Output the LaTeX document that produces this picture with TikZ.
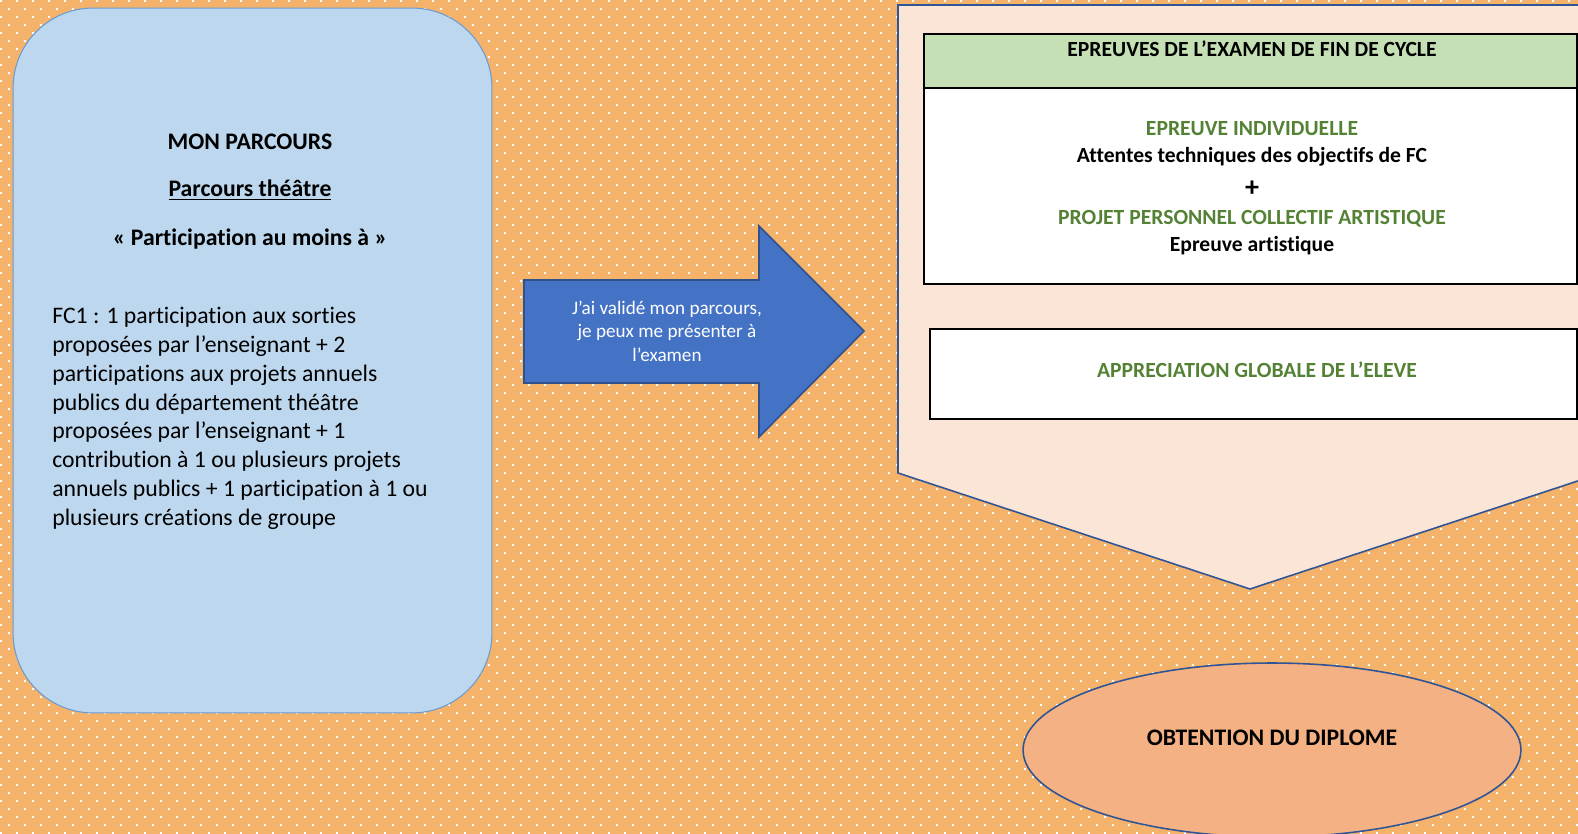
\documentclass[tikz,border=0pt]{standalone}
\usepackage{fontspec}
\setmainfont{Carlito}[Ligatures=NoCommon]
\usetikzlibrary{calc, shapes.geometric, patterns, positioning}
\definecolor{fondorange}{HTML}{F4B26B}
\definecolor{parcoursbleu}{HTML}{BDD7EE}
\definecolor{parcoursbord}{HTML}{6A9BD3}
\definecolor{flechebleu}{HTML}{4472C4}
\definecolor{flechebord}{HTML}{2F528F}
\definecolor{examenrose}{HTML}{FBE5D6}
\definecolor{examenbord}{HTML}{2F5597}
\definecolor{entetevert}{HTML}{C5E0B4}
\definecolor{textevert}{HTML}{548235}
\definecolor{diplomeorange}{HTML}{F4B183}

% white dots of the background
\pgfdeclarepatternformonly{pointsblancs}{\pgfpointorigin}{\pgfpoint{9.07pt}{9.07pt}}{\pgfpoint{9.07pt}{9.07pt}}{%
  \pgfpathrectangle{\pgfpoint{0pt}{0pt}}{\pgfpoint{1.1pt}{1.1pt}}%
  \pgfpathrectangle{\pgfpoint{4.53pt}{4.53pt}}{\pgfpoint{1.1pt}{1.1pt}}%
  \pgfusepath{fill}}

\begin{document}
\begin{tikzpicture}[x=0.02cm, y=-0.02cm,
    grand/.style={font=\fontsize{13.5}{16.4}\selectfont},
    titre/.style={font=\fontsize{13.5}{16.4}\selectfont\bfseries},
    examen/.style={font=\fontsize{12.3}{15}\selectfont\bfseries},
    cadre/.style={draw=black, line width=1.2pt}]
                        % Background
                        \useasboundingbox (0,0) rectangle (1578,834);
                        \clip (0,0) rectangle (1578,834);
                        \fill[fondorange] (0,0) rectangle (1578,834);
                        \fill[pattern=pointsblancs, pattern color=white] (0,0) rectangle (1578,834);

                        % Mon parcours
                        \node[draw=parcoursbord, fill=parcoursbleu, line width=0.6pt, rounded corners=1.6cm,
                              minimum width=9.58cm, minimum height=14.1cm] (parcours) at (252.5,360.5) {};
                        \node[titre] (monparcours) at (250,142) {MON PARCOURS};
                        \node[titre] (theatre) at (250,190) {\underline{Parcours théâtre}};
                        \node[titre] (participation) at (250,239) {« Participation au moins à »};
                        \node[grand, anchor=north west, inner sep=0pt, align=left] (fcun) at (52,307)
                            {FC1 : 1 participation aux sorties\\
                             proposées par l’enseignant + 2\\
                             participations aux projets annuels\\
                             publics du département théâtre\\
                             proposées par l’enseignant + 1\\
                             contribution à 1 ou plusieurs projets\\
                             annuels publics + 1 participation à 1 ou\\
                             plusieurs créations de groupe};

                        % Arrow
                        \draw[fill=flechebleu, draw=flechebord, line width=0.9pt]
                            (524,280) -- (759,280) -- (759,226) -- (864,331) -- (759,437) -- (759,383) -- (524,383) -- cycle;
                        \node[white, align=center, font=\fontsize{10.9}{13.3}\selectfont] (valide) at (667,331)
                            {J’ai validé mon parcours,\\ je peux me présenter à\\ l’examen};

                        % Exam block
                        \draw[fill=examenrose, draw=examenbord, line width=0.9pt]
                            (898,5) -- (1602,5) -- (1602,473) -- (1250,589) -- (898,473) -- cycle;
                        \draw[cadre, fill=entetevert] (924,34) rectangle (1577,88);
                        \draw[cadre, fill=white] (924,88) rectangle (1577,284);
                        \node[examen] (epreuves) at (1252,49) {EPREUVES DE L’EXAMEN DE FIN DE CYCLE};
                        \node[examen, textevert] (individuelle) at (1252,129) {EPREUVE INDIVIDUELLE};
                        \node[examen] (attentes) at (1252,157) {Attentes techniques des objectifs de FC};
                        \node[examen, font=\fontsize{16}{18}\selectfont\bfseries] (plus) at (1252,189) {+};
                        \node[examen, textevert] (projet) at (1252,219) {PROJET PERSONNEL COLLECTIF ARTISTIQUE};
                        \node[examen] (artistique) at (1252,246) {Epreuve artistique};

                        \draw[cadre, fill=white] (930,329) rectangle (1577,419);
                        \node[examen, textevert] (appreciation) at (1257,370) {APPRECIATION GLOBALE DE L’ELEVE};

                        % Diploma
                        \node[ellipse, draw=examenbord, fill=diplomeorange, line width=0.9pt,
                              minimum width=9.96cm, minimum height=3.48cm] (diplome) at (1272,750) {};
                        \node[titre] (obtention) at (1272,738) {OBTENTION DU DIPLOME};
                    \end{tikzpicture}
\end{document}
